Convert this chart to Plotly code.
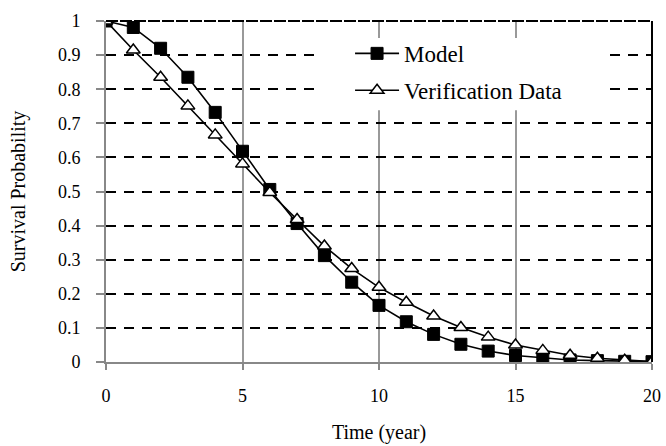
import plotly.graph_objects as go

years = list(range(0, 21))
model = [1.0, 0.981, 0.92, 0.835, 0.732, 0.618, 0.506, 0.406, 0.312, 0.234, 0.166,
         0.118, 0.081, 0.052, 0.032, 0.019, 0.012, 0.006, 0.004, 0.002, 0.001]
verification = [1.0, 0.915, 0.835, 0.751, 0.666, 0.581, 0.497, 0.418, 0.34, 0.274, 0.219,
                0.175, 0.135, 0.101, 0.073, 0.05, 0.034, 0.02, 0.011, 0.005, 0.001]

x_ticks = [0, 5, 10, 15, 20]
y_ticks = [round(i * 0.1, 1) for i in range(11)]
y_ticktext = ["0", "0.1", "0.2", "0.3", "0.4", "0.5", "0.6", "0.7", "0.8", "0.9", "1"]

FONT = "Liberation Serif"

fig = go.Figure()
fig.add_trace(go.Scatter(
    x=years, y=model, name="Model", mode="lines+markers",
    line=dict(color="black", width=1.6),
    marker=dict(symbol="square", size=12, color="black", line=dict(color="black", width=1)),
    legendgroup="a",
))
fig.add_trace(go.Scatter(
    x=years, y=verification, name="Verification Data", mode="lines+markers",
    line=dict(color="black", width=1.6),
    marker=dict(symbol="triangle-up", size=12, color="white", line=dict(color="black", width=1.5)),
    legendgroup="b",
))

fig.update_layout(
    template="none",
    width=666, height=446, autosize=False,
    margin=dict(l=106, r=14, t=21, b=84, pad=0),
    paper_bgcolor="white", plot_bgcolor="white",
    font=dict(family=FONT, color="black", size=18),
    showlegend=True,
    legend=dict(
        x=0.447, y=0.968, xanchor="left", yanchor="top",
        bgcolor="rgba(0,0,0,0)", borderwidth=0,
        font=dict(family=FONT, size=23, color="black"),
        itemwidth=44, traceorder="grouped", tracegroupgap=4,
    ),
    xaxis=dict(
        range=[0, 20], tickmode="array", tickvals=x_ticks, automargin=False,
        showgrid=True, gridcolor="#999999", gridwidth=1.6,
        showline=True, linecolor="#888888", linewidth=2,
        ticks="outside", ticklen=6, tickcolor="#888888", tickwidth=1.5,
        zeroline=False, ticklabelstandoff=10,
        tickfont=dict(family=FONT, size=18, color="black"),
        title=dict(text="Time (year)", font=dict(family=FONT, size=20, color="black"), standoff=20),
    ),
    yaxis=dict(
        range=[0, 1], tickmode="array", tickvals=y_ticks, ticktext=y_ticktext, automargin=False,
        showgrid=True, gridcolor="black", gridwidth=1.6, griddash="10px,8px",
        showline=True, linecolor="#888888", linewidth=2,
        ticks="outside", ticklen=8, tickcolor="#888888", tickwidth=1.5,
        zeroline=False, ticklabelstandoff=12,
        tickfont=dict(family=FONT, size=18, color="black"),
        title=dict(text="Survival Probability", font=dict(family=FONT, size=20, color="black"), standoff=27),
    ),
    shapes=[
        # white box behind the legend, hiding the grid there
        dict(type="rect", xref="paper", yref="paper", x0=0.388, x1=0.918, y0=0.738, y1=0.95,
             fillcolor="white", line=dict(width=0), layer="above"),
        dict(type="line", xref="paper", yref="paper", x0=0, x1=1, y0=1, y1=1,
             line=dict(color="black", width=2, dash="12px,2px"), layer="above"),
        dict(type="line", xref="paper", yref="paper", x0=1, x1=1, y0=0, y1=1,
             line=dict(color="black", width=2), layer="above"),
    ],
)

fig.write_html("out.html", config={"displayModeBar": False},
               post_script="document.body.style.margin='0';")
